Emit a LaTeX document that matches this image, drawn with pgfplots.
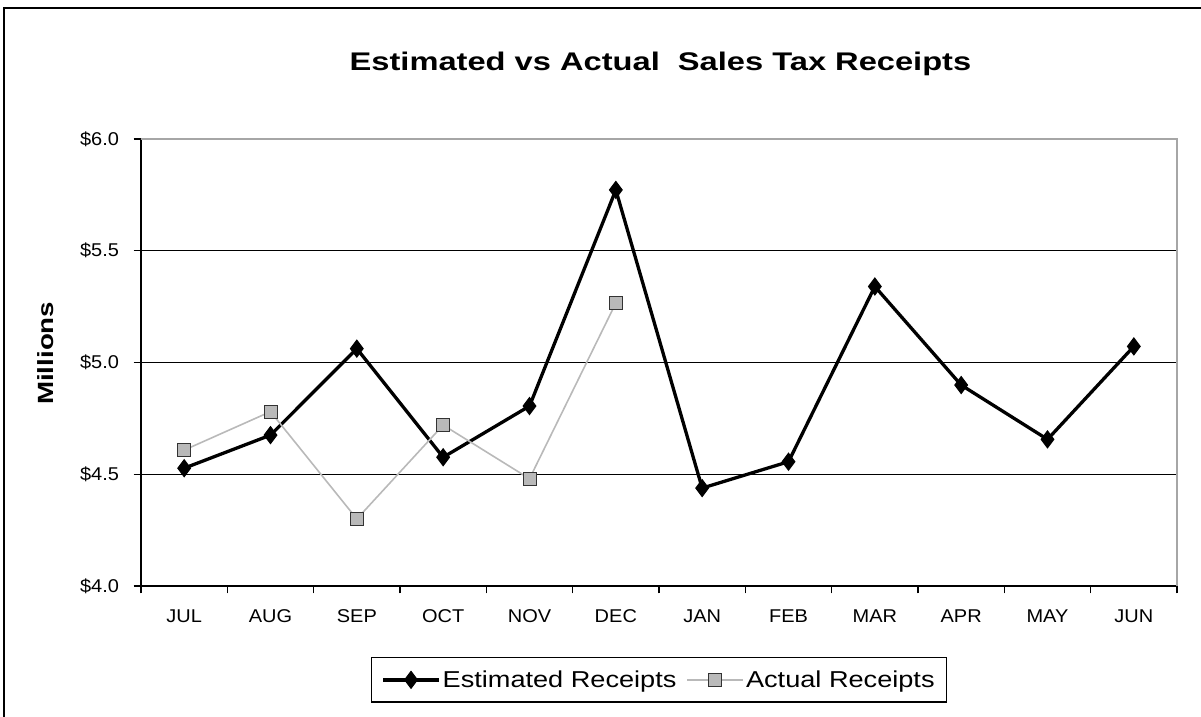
\documentclass[border=0pt]{standalone}
\usepackage{fontspec}
\setmainfont{Liberation Sans}[FakeStretch=1.28]
\newfontfamily\tickfont{Liberation Sans}[FakeStretch=1.08]
\newfontfamily\legfont{Liberation Sans}[FakeStretch=1.18]
\newfontfamily\ylabfont{Liberation Sans}[FakeStretch=1.26]
\usepackage{pgfplots}
\pgfplotsset{compat=1.18}

\begin{document}
\begin{tikzpicture}[x=1bp,y=1bp]
\useasboundingbox (0,0) rectangle (1201,717);
% outer frame (only top and left show in the scan)
\draw[line width=2bp] (4,0) -- (4,709) -- (1201,709);
\node[anchor=base,font=\fontsize{25.5bp}{30bp}\selectfont\bfseries] at (660.5,646.3)
  {Estimated vs Actual\ \ Sales Tax Receipts};
\node[anchor=base,rotate=90,font=\ylabfont\fontsize{22bp}{26bp}\selectfont\bfseries] at (53.5,363.7) {Millions};

\begin{axis}[
  at={(141bp,131bp)}, anchor=south west,
  scale only axis, width=1036bp, height=447bp,
  xmin=-0.5, xmax=11.5, ymin=4, ymax=6,
  clip=false,
  axis line style={draw=none},
  tick pos=left, tick align=outside,
  major tick length=7.5bp,
  tick style={black, line width=1.2bp},
  ymajorgrids, grid style={black, line width=1.2bp},
  ytick={4,4.5,5,5.5,6},
  yticklabels={\$4.0,\$4.5,\$5.0,\$5.5,\$6.0},
  yticklabel style={xshift=-11bp},
  xtick={0,...,11},
  xticklabels={JUL,AUG,SEP,OCT,NOV,DEC,JAN,FEB,MAR,APR,MAY,JUN},
  xticklabel style={yshift=-13bp},
  xtick style={draw=none},
  extra x ticks={-0.5,0.5,...,11.5},
  extra x tick labels={},
  extra x tick style={xtick style={draw=black}},
  ticklabel style={font=\tickfont\fontsize{18.5bp}{22bp}\selectfont},
  legend style={at={(0.5,-0.21)}, anchor=center, draw=black, line width=1.2bp,
    inner xsep=10bp, inner ysep=11bp, font=\legfont\fontsize{23bp}{27bp}\selectfont,
    /tikz/every even column/.append style={column sep=8bp}},
  legend columns=2,
  legend image code/.code={\draw[mark repeat=2,mark phase=2] plot coordinates {(0bp,0bp) (28bp,0bp) (56bp,0bp)};},
]
\addplot[black, line width=3.3bp, mark=diamond*, mark size=8.5bp,
  mark options={solid, fill=black, line width=1bp}] coordinates {
  (0,4.527) (1,4.675) (2,5.062) (3,4.576) (4,4.805) (5,5.772)
  (6,4.438) (7,4.556) (8,5.340) (9,4.899) (10,4.656) (11,5.072)};
\addlegendentry{Estimated Receipts}
\addplot[gray!55, line width=1.6bp, mark=square*, mark size=6.5bp,
  mark options={solid, fill=gray!55, draw=gray!40!black, line width=1bp}] coordinates {
  (0,4.608) (1,4.780) (2,4.300) (3,4.720) (4,4.480) (5,5.266)};
\addlegendentry{Actual Receipts}
% plot area border
\draw[black, line width=1.5bp] (rel axis cs:0,1) -- (rel axis cs:0,0) -- (rel axis cs:1,0);
\draw[gray!70, line width=1.5bp] (rel axis cs:0,1) -- (rel axis cs:1,1) -- (rel axis cs:1,0);
\end{axis}
\end{tikzpicture}
\end{document}
